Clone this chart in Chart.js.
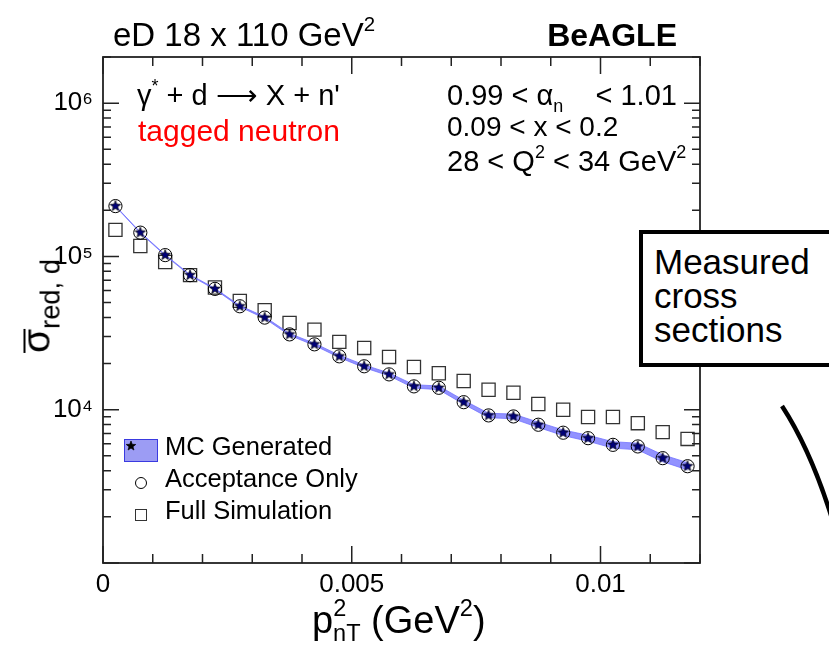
<!DOCTYPE html>
<html>
<head>
<meta charset="utf-8">
<script src="https://cdn.jsdelivr.net/npm/chart.js@4.4.1/dist/chart.umd.min.js"></script>
<style>
body { margin:0; background:#fff; }
#wrap { position:relative; width:829px; height:652px; overflow:hidden; font-family:'Liberation Sans', Arial, sans-serif; color:#000; }
#wrap canvas { position:absolute; left:0; top:0; }
.t { position:absolute; white-space:nowrap; line-height:1; }
.sup { font-size:62%; position:relative; top:-0.72em; }
.sub { font-size:62%; position:relative; top:0.35em; }
</style>
</head>
<body>
<div id="wrap"><canvas id="c" width="829" height="652"></canvas></div>
<script>
// bin centres in pT^2 (GeV^2)
const xBins = [0.00025, 0.00075, 0.00125, 0.00175, 0.00225, 0.00275, 0.00325, 0.00375, 0.00425, 0.00475, 0.00525, 0.00575,
	0.00625, 0.00675, 0.00725, 0.00775, 0.00825, 0.00875, 0.00925, 0.00975, 0.01025, 0.01075, 0.01125, 0.01175]

const mcGen = [2.13e5, 1.43e5, 1.02e5, 7.55e4, 6.14e4, 4.73e4, 3.99e4, 3.10e4, 2.67e4, 2.23e4, 1.92e4, 1.70e4,
	1.42e4, 1.39e4, 1.12e4, 9.18e3, 9.04e3, 7.98e3, 7.08e3, 6.52e3, 5.90e3, 5.76e3, 4.83e3, 4.28e3]
// relative half width of the MC band
const mcErr = [0.004, 0.005, 0.006, 0.007, 0.008, 0.01, 0.012, 0.014, 0.016, 0.018, 0.02, 0.022,
	0.025, 0.028, 0.03, 0.033, 0.036, 0.04, 0.042, 0.045, 0.048, 0.05, 0.052, 0.055]
const accOnly = [2.13e5, 1.43e5, 1.02e5, 7.55e4, 6.14e4, 4.73e4, 3.99e4, 3.10e4, 2.67e4, 2.23e4, 1.92e4, 1.70e4,
	1.42e4, 1.39e4, 1.12e4, 9.18e3, 9.04e3, 7.98e3, 7.08e3, 6.52e3, 5.90e3, 5.76e3, 4.83e3, 4.28e3]
const fullSim = [1.49e5, 1.17e5, 9.2e4, 7.55e4, 6.27e4, 5.13e4, 4.46e4, 3.68e4, 3.33e4, 2.77e4, 2.53e4, 2.21e4,
	1.90e4, 1.73e4, 1.54e4, 1.35e4, 1.29e4, 1.09e4, 1.0e4, 8.96e3, 8.96e3, 8.17e3, 7.14e3, 6.45e3]

const xTicks = [0, 0.005, 0.01]
const xTickLabels = ['0', '0.005', '0.01']
const yTicks = [1e4, 1e5, 1e6]
const yTickLabels = ['10⁴', '10⁵', '10⁶']

const FONT = "'Liberation Sans', Arial, sans-serif"
const wrap = document.getElementById('wrap')

const mkStar = (r, fill) => {
	const c = document.createElement('canvas')
	const s = Math.ceil(r * 2 + 2)
	c.width = c.height = s
	const g = c.getContext('2d')
	g.beginPath()
	for (let i = 0; i < 10; i++) {
		const rr = i % 2 ? r * 0.42 : r
		const a = -Math.PI / 2 + i * Math.PI / 5
		g.lineTo(s / 2 + rr * Math.cos(a), s / 2 + rr * Math.sin(a))
	}
	g.closePath()
	g.fillStyle = fill
	g.fill()
	g.strokeStyle = '#000'
	g.lineWidth = 0.7
	g.stroke()
	return c
}

// text placed by baseline
const txt = (html, x, base, size, css) => {
	const d = document.createElement('div')
	d.className = 't'
	d.innerHTML = html
	d.style.cssText = `left:${x}px; top:${base - 0.85 * size}px; font-size:${size}px; ${css || ''}`
	wrap.appendChild(d)
	return d
}

const pts = arr => xBins.map((x, i) => ({ x, y: arr[i] }))

// ROOT-like frame with ticks on all four sides, pointing inwards
const frameTicks = {
	id: 'frameTicks',
	afterDatasetsDraw(c) {
		const { ctx, chartArea: a } = c
		const sx = c.scales.x, sy = c.scales.y
		ctx.save()
		ctx.strokeStyle = '#222'
		ctx.lineWidth = 1.5
		ctx.beginPath()
		for (let k = 0; k <= 12; k++) {
			const v = k * 0.001
			const p = sx.getPixelForValue(v)
			const len = k % 5 == 0 ? 17 : 9
			ctx.moveTo(p, a.bottom); ctx.lineTo(p, a.bottom - len)
			ctx.moveTo(p, a.top); ctx.lineTo(p, a.top + len)
		}
		for (let d = 1e3; d <= 1e6; d *= 10) {
			for (let m = 1; m <= 9; m++) {
				const v = m * d
				if (v < sy.min || v > sy.max) continue
				const p = sy.getPixelForValue(v)
				const len = m == 1 ? 16 : 8
				ctx.moveTo(a.left, p); ctx.lineTo(a.left + len, p)
				ctx.moveTo(a.right, p); ctx.lineTo(a.right - len, p)
			}
		}
		ctx.stroke()
		ctx.lineWidth = 1.8
		ctx.strokeRect(a.left, a.top, a.right - a.left, a.bottom - a.top)
		ctx.restore()
	}
}

const band = 'rgba(110,110,255,0.75)'

new Chart(document.getElementById('c'), {
	type: 'line',
	data: {
		datasets: [
			{ label: 'MC Generated', data: pts(mcGen), showLine: false, pointStyle: mkStar(5.6, '#00007a'), pointRadius: 5, order: 0 },
			{ label: 'Acceptance Only', data: pts(accOnly), showLine: false, pointStyle: 'circle', pointRadius: 6.6,
				pointBorderColor: '#000', pointBackgroundColor: 'rgba(0,0,0,0)', pointBorderWidth: 1, order: 1 },
			{ label: 'hi', data: pts(mcGen.map((v, i) => v * (1 + mcErr[i]))), borderColor: band, borderWidth: 1,
				pointRadius: 0, tension: 0, fill: false, order: 2 },
			{ label: 'lo', data: pts(mcGen.map((v, i) => v * (1 - mcErr[i]))), borderColor: band, borderWidth: 1,
				pointRadius: 0, tension: 0, fill: '-1', backgroundColor: band, order: 3 },
			{ label: 'Full Simulation', data: pts(fullSim), showLine: false, pointStyle: 'rect', pointRadius: 9.3,
				pointBorderColor: '#333', pointBackgroundColor: 'rgba(0,0,0,0)', pointBorderWidth: 1.3, order: 4 },
		]
	},
	options: {
		responsive: false,
		animation: false,
		events: [],
		layout: { padding: { top: 57, right: 129, left: 0, bottom: 0 } },
		plugins: { legend: { display: false }, tooltip: { enabled: false } },
		scales: {
			x: {
				type: 'linear', min: 0, max: 0.012,
				afterBuildTicks: s => { s.ticks = xTicks.map(v => ({ value: v })) },
				afterFit: s => { s.height = 89 },
				ticks: { callback: (v, i) => xTickLabels[i], color: '#000', font: { family: FONT, size: 26 }, padding: 6, maxRotation: 0, autoSkip: false },
				grid: { display: false, drawTicks: false },
				border: { display: false },
			},
			y: {
				type: 'logarithmic', min: 1000, max: 2e6,
				afterBuildTicks: s => { s.ticks = yTicks.map(v => ({ value: v })) },
				afterFit: s => { s.width = 103 },
				ticks: { callback: (v, i) => yTickLabels[i], color: '#000', font: { family: FONT, size: 26 }, padding: 10, autoSkip: false },
				grid: { display: false, drawTicks: false },
				border: { display: false },
			}
		}
	},
	plugins: [frameTicks]
})

// header and in-plot labels
txt('eD 18 x 110 GeV<span class="sup">2</span>', 113, 46, 33)
txt('BeAGLE', 0, 46, 32, 'font-weight:bold; left:auto; right:152px;')
txt('γ<span class="sup">*</span> + d ⟶ X + n\'', 137, 106, 29)
txt('tagged neutron', 138, 141, 30, 'color:#ff0000;')
txt('0.99 &lt; α<span class="sub">n</span>&nbsp;&nbsp;&nbsp; &lt; 1.01', 447, 106, 29)
txt('0.09 &lt; x &lt; 0.2', 447, 137, 28)
txt('28 &lt; Q<span class="sup">2</span> &lt; 34 GeV<span class="sup">2</span>', 447, 172, 29)

// legend
const lb = document.createElement('div')
lb.style.cssText = 'position:absolute; left:124px; top:439px; width:32px; height:21px; background:#9c9cf4; border:1px solid #3a3ae0; display:flex; align-items:center; justify-content:center;'
lb.appendChild(mkStar(5, '#000'))
wrap.appendChild(lb)
const mk = css => { const d = document.createElement('div'); d.style.cssText = 'position:absolute; box-sizing:border-box; ' + css; wrap.appendChild(d) }
mk('left:135px; top:477px; width:12px; height:12px; border:1.2px solid #000; border-radius:50%;')
mk('left:135px; top:509px; width:12px; height:12px; border:1.2px solid #333;')
txt('MC Generated', 165, 456, 25.5)
txt('Acceptance Only', 165, 488, 25.5)
txt('Full Simulation', 165, 520, 25.5)

// axis titles
txt('p<span class="sup">2</span><span class="sub" style="margin-left:-0.56em;">nT</span> (GeV<span class="sup">2</span>)', 312, 633, 38)
const yt = document.createElement('div')
yt.style.cssText = 'position:absolute; left:36px; top:306px; width:0; height:0;'
yt.innerHTML = `<div style="position:absolute; left:0; top:0; transform:translate(-50%,-50%) rotate(-90deg); white-space:nowrap; font-size:39px; line-height:1;">` +
	`<span style="display:inline-block; line-height:0.55em; border-top:2px solid #000;">σ</span><span class="sub" style="font-size:70%;">red, d</span></div>`
wrap.appendChild(yt)

// side annotation
const box = document.createElement('div')
box.style.cssText = 'position:absolute; left:639px; top:230px; width:220px; height:137px; box-sizing:border-box; background:#fff; border:4.5px solid #000; padding:11px 0 0 11px; font-size:35px; line-height:34px;'
box.innerHTML = 'Measured<br>cross<br>sections'
wrap.appendChild(box)
const svg = document.createElementNS('http://www.w3.org/2000/svg', 'svg')
svg.setAttribute('width', 829); svg.setAttribute('height', 652)
svg.style.cssText = 'position:absolute; left:0; top:0;'
svg.innerHTML = '<path d="M782 406 Q812 452 834 525" fill="none" stroke="#000" stroke-width="4.5"/>'
wrap.appendChild(svg)
</script>
</body>
</html>
